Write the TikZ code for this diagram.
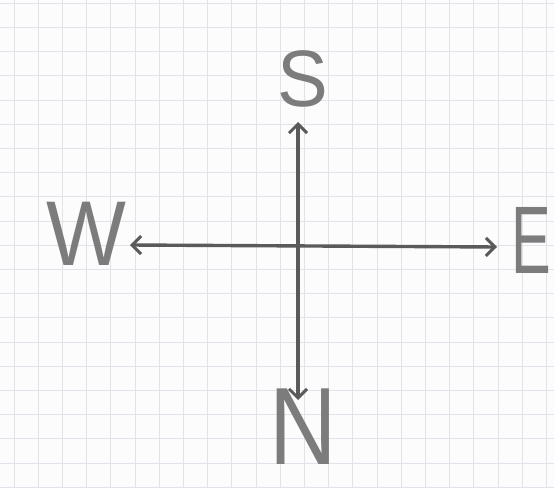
\documentclass[tikz,border=0pt]{standalone}
\usepackage{fontspec}
\setmainfont{Liberation Sans}
\usetikzlibrary{arrows.meta}
\definecolor{paper}{HTML}{FCFCFC}
\definecolor{gridc}{HTML}{E0E4EA}
\definecolor{pencil}{HTML}{5A5A5A}
\definecolor{lettc}{HTML}{7C7C7C}
\tikzset{
  axis/.style={draw=pencil, line width=3.4pt, line cap=round,
    {Straight Barb[length=9pt,width=18pt,line width=3pt]}-{Straight Barb[length=9pt,width=18pt,line width=3pt]}},
  letter/.style={text=lettc, inner sep=0pt, anchor=center},
  gridline/.style={draw=gridc, line width=0.9pt}
}
\begin{document}
\begin{tikzpicture}[x=1pt,y=1pt]
\fill[paper] (0,0) rectangle (554,488);
\useasboundingbox (0,0) rectangle (554,488);
\foreach \k in {0,...,22} {
  \draw[gridline] ({14+24.2*\k},0) -- ({14+24.2*\k},488);
}
\foreach \k in {0,...,20} {
  \draw[gridline] (0,{488-3.3-24.2*\k}) -- (554,{488-3.3-24.2*\k});
}
\coordinate (top) at (298,366);
\coordinate (bottom) at (298,88);
\coordinate (left) at (130,243);
\coordinate (right) at (497,241);
\draw[axis] (bottom) -- (top);
\draw[axis] (left) -- (right);
\node[letter, font=\fontsize{80}{80}\selectfont, xscale=0.95, transform shape] (S) at (303,409) {S};
\node[letter, font=\fontsize{92}{92}\selectfont, xscale=0.92, transform shape] (W) at (86,254) {W};
\node[letter, font=\fontsize{96}{96}\selectfont, xscale=0.62, transform shape] (E) at (531,248) {E};
\node[letter, font=\fontsize{110}{110}\selectfont, xscale=0.85, transform shape] (N) at (303,61) {N};
\end{tikzpicture}
\end{document}
